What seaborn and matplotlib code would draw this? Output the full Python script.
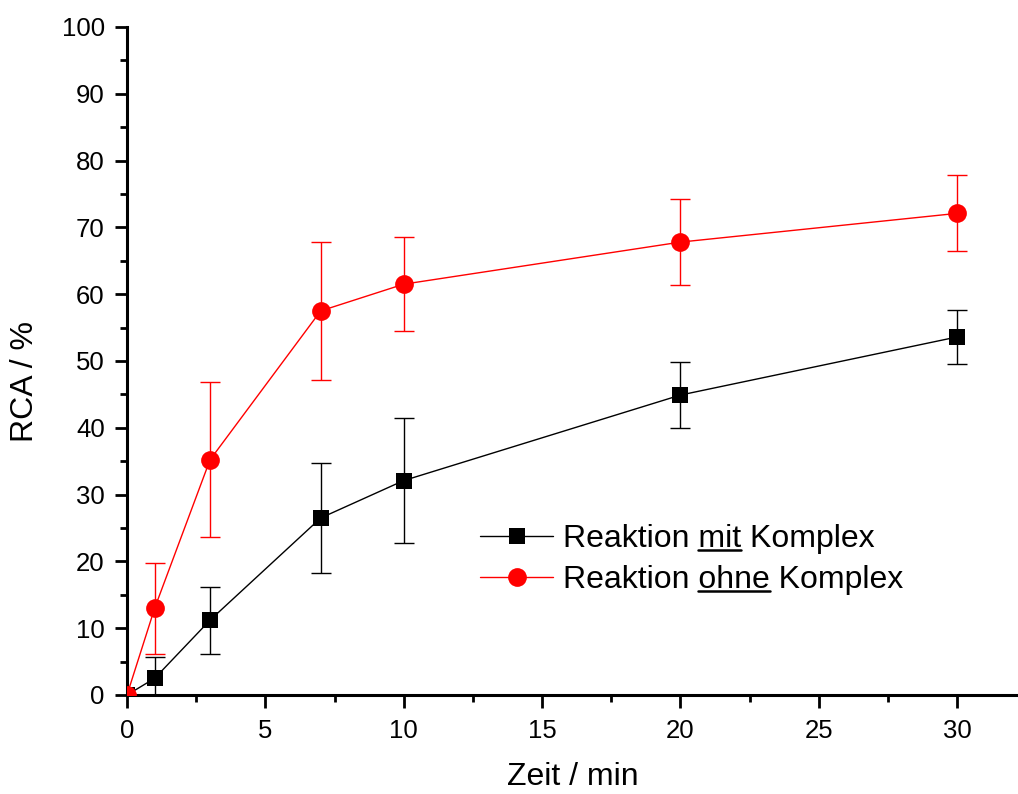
import matplotlib
matplotlib.use("Agg")
import matplotlib.pyplot as plt
from matplotlib.lines import Line2D
from matplotlib.ticker import MultipleLocator
import numpy as np
import pandas as pd
import seaborn as sns

# Reaction time course (min) and RCA values (%)
zeit = [0, 1, 3, 7, 10, 20, 30]
rca_mit = [0.0, 2.5, 11.2, 26.5, 32.1, 44.9, 53.6]
err_mit = [0.0, 3.2, 5.0, 8.2, 9.4, 5.0, 4.1]
rca_ohne = [0.0, 13.0, 35.2, 57.5, 61.5, 67.8, 72.1]
err_ohne = [0.0, 6.8, 11.6, 10.3, 7.0, 6.4, 5.7]

label_mit = "Reaktion mit Komplex"
label_ohne = "Reaktion ohne Komplex"
underlined = {label_mit: "mit", label_ohne: "ohne"}

df = pd.concat([
    pd.DataFrame({"Zeit": zeit, "RCA": rca_mit, "err": err_mit, "Reihe": label_mit}),
    pd.DataFrame({"Zeit": zeit, "RCA": rca_ohne, "err": err_ohne, "Reihe": label_ohne}),
], ignore_index=True)

sns.set_theme(style="ticks")
plt.rcParams["font.family"] = ["Liberation Sans", "DejaVu Sans"]
plt.rcParams["text.color"] = "black"
plt.rcParams["axes.labelcolor"] = "black"

fig = plt.figure(figsize=(10.18, 7.94), dpi=100)
ax = fig.add_axes([127 / 1018, 99 / 794, 891 / 1018, 668 / 794])

colors = {label_mit: "black", label_ohne: "#ff0000"}
markers = {label_mit: "s", label_ohne: "o"}
msizes = {label_mit: 12, label_ohne: 13.5}

for name in [label_mit, label_ohne]:
    sub = df[df["Reihe"] == name]
    ax.errorbar(sub["Zeit"], sub["RCA"], yerr=sub["err"], fmt="none",
                ecolor=colors[name], elinewidth=1.0, capsize=7, capthick=1.0,
                zorder=2)

sns.lineplot(data=df, x="Zeit", y="RCA", hue="Reihe", style="Reihe",
             palette=colors, markers=markers, dashes=False, linewidth=1.0,
             markeredgewidth=0, ax=ax, legend=False, zorder=3)
for line, name in zip(ax.get_lines()[-2:], [label_mit, label_ohne]):
    line.set_markersize(msizes[name])

ax.set_xlim(0, 32.2)
ax.set_ylim(0, 100)
ax.xaxis.set_major_locator(MultipleLocator(5))
ax.xaxis.set_minor_locator(MultipleLocator(2.5))
ax.yaxis.set_major_locator(MultipleLocator(10))
ax.yaxis.set_minor_locator(MultipleLocator(5))

for side in ["top", "right"]:
    ax.spines[side].set_visible(False)
for side in ["left", "bottom"]:
    ax.spines[side].set_linewidth(2.2)
    ax.spines[side].set_color("black")

ax.tick_params(which="major", direction="out", length=9, width=2.0,
               labelsize=18.5, colors="black")
ax.tick_params(which="minor", direction="out", length=5, width=2.0,
               colors="black")
ax.tick_params(axis="x", which="major", pad=8)
ax.tick_params(axis="y", which="major", pad=7)
ax.set_xlabel("Zeit / min", fontsize=23, labelpad=14)
ax.set_ylabel("RCA / %", fontsize=23)
ax.yaxis.set_label_coords(-0.098, 0.469)

handles = [
    Line2D([], [], color=colors[n], marker=markers[n], markersize=msizes[n],
           markeredgewidth=0, linewidth=1.0)
    for n in [label_mit, label_ohne]
]
leg = ax.legend(handles, [label_mit, label_ohne], loc="upper left",
                bbox_to_anchor=(480 / 1018, 1 - 524 / 794),
                bbox_transform=fig.transFigure, frameon=False, fontsize=23,
                handlelength=2.3, handletextpad=0.3, labelspacing=0.35,
                borderpad=0, borderaxespad=0)
for t in leg.get_texts():
    t.set_color("black")

# underline the distinguishing word in each legend entry
fig.canvas.draw()
renderer = fig.canvas.get_renderer()
for txt in leg.get_texts():
    s = txt.get_text()
    word = underlined[s]
    prop = txt.get_fontproperties()
    head = s[: s.index(word) + len(word)]
    w_head, _, _ = renderer.get_text_width_height_descent(head, prop, ismath=False)
    w_word, _, _ = renderer.get_text_width_height_descent(word, prop, ismath=False)
    _, _, d = renderer.get_text_width_height_descent(s, prop, ismath=False)
    bb = txt.get_window_extent(renderer)
    base = bb.y0 + d
    y = base - 3
    x0 = bb.x0 + w_head - w_word
    x1 = bb.x0 + w_head
    inv = fig.transFigure.inverted()
    (fx0, fy), (fx1, _) = inv.transform([(x0, y), (x1, y)])
    fig.add_artist(Line2D([fx0, fx1], [fy, fy], color="black", linewidth=1.8,
                          transform=fig.transFigure))

fig.savefig("out.png", dpi=100)
